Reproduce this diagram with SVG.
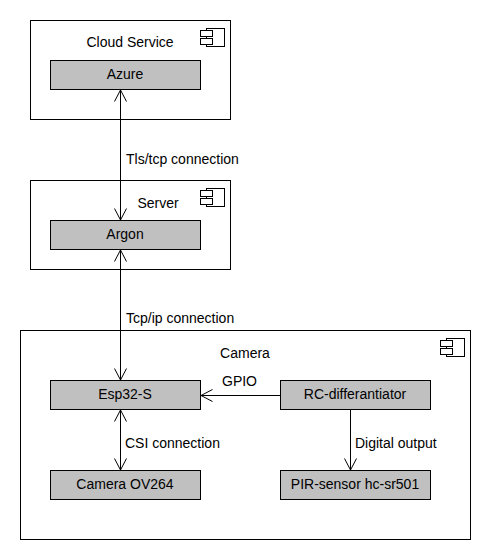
<svg xmlns="http://www.w3.org/2000/svg" width="490" height="560" viewBox="0 0 490 560">
<style>
.frame{fill:#fff;stroke:#000;stroke-width:1}
.node{fill:#C0C0C0;stroke:#000;stroke-width:1}
.ic{fill:#fff;stroke:#000;stroke-width:1}
text{font-family:"Liberation Sans",Arial,sans-serif;font-size:14px;fill:#000}
.c{text-anchor:middle}
.conn{fill:none;stroke:#000;stroke-width:1}
</style>
<defs>
<marker id="open" markerWidth="14" markerHeight="14" refX="12" refY="7" orient="auto-start-reverse" markerUnits="userSpaceOnUse">
<path d="M0.5,1 L12,7 L0.5,13" fill="none" stroke="#000" stroke-width="1"/>
</marker>
<g id="icon">
<rect class="ic" x="6" y="0" width="18" height="18"/>
<rect class="ic" x="0" y="2" width="12" height="6"/>
<rect class="ic" x="0" y="10" width="12" height="6"/>
</g>
</defs>
<g id="cloud">
<rect class="frame" x="30.5" y="20.5" width="200" height="99"/>
<use href="#icon" x="200.5" y="28.5"/>
<text class="c" x="130" y="47">Cloud Service</text>
</g>
<g id="azure">
<rect class="node" x="50.5" y="60.5" width="150" height="29"/>
<text class="c" x="125" y="79">Azure</text>
</g>
<g id="server">
<rect class="frame" x="30.5" y="180.5" width="200" height="89"/>
<use href="#icon" x="200.5" y="188.5"/>
<text class="c" x="158" y="208">Server</text>
</g>
<g id="argon">
<rect class="node" x="50.5" y="220.5" width="150" height="29"/>
<text class="c" x="125" y="239">Argon</text>
</g>
<g id="camera">
<rect class="frame" x="20.5" y="330.5" width="450" height="209"/>
<use href="#icon" x="440.5" y="338.5"/>
<text class="c" x="245" y="358">Camera</text>
</g>
<g id="esp32">
<rect class="node" x="50.5" y="380.5" width="150" height="29"/>
<text class="c" x="125" y="399">Esp32-S</text>
</g>
<g id="rc">
<rect class="node" x="280.5" y="380.5" width="150" height="29"/>
<text class="c" x="355" y="399">RC-differantiator</text>
</g>
<g id="ov264">
<rect class="node" x="50.5" y="470.5" width="150" height="29"/>
<text class="c" x="125" y="489">Camera OV264</text>
</g>
<g id="pir">
<rect class="node" x="280.5" y="470.5" width="150" height="29"/>
<text class="c" x="355" y="489">PIR-sensor hc-sr501</text>
</g>
<g id="connectors">
<line class="conn" x1="120.5" y1="90" x2="120.5" y2="220" marker-start="url(#open)" marker-end="url(#open)"/>
<text x="126" y="164">Tls/tcp connection</text>
<line class="conn" x1="120.5" y1="250" x2="120.5" y2="380" marker-start="url(#open)" marker-end="url(#open)"/>
<text x="126" y="323">Tcp/ip connection</text>
<line class="conn" x1="120.5" y1="410" x2="120.5" y2="470" marker-start="url(#open)" marker-end="url(#open)"/>
<text x="125" y="448">CSI connection</text>
<line class="conn" x1="280" y1="395.5" x2="201" y2="395.5" marker-end="url(#open)"/>
<text x="222" y="386">GPIO</text>
<line class="conn" x1="350.5" y1="410" x2="350.5" y2="470" marker-end="url(#open)"/>
<text x="355" y="448">Digital output</text>
</g>
</svg>
